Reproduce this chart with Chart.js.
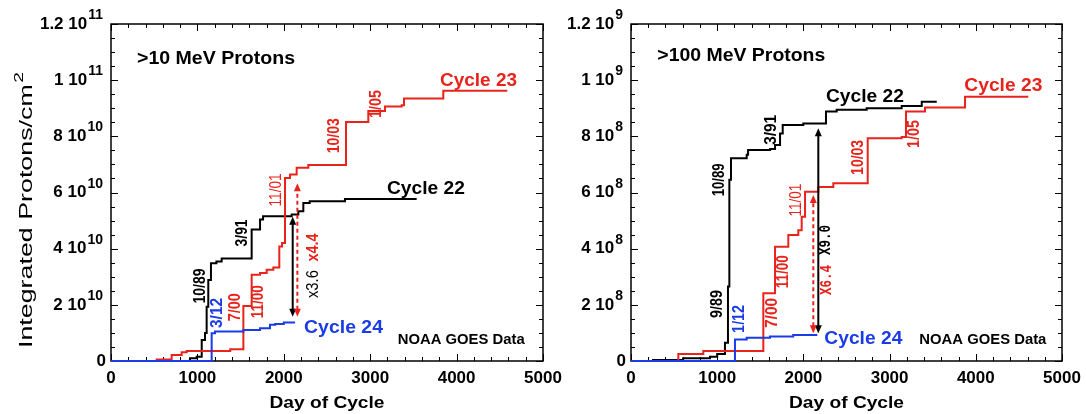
<!DOCTYPE html>
<html><head><meta charset="utf-8">
<script src="https://cdn.jsdelivr.net/npm/chart.js@4.4.0/dist/chart.umd.min.js"></script>
<style>
html,body{margin:0;padding:0;background:#fff;}
#wrap{position:relative;width:1086px;height:414px;overflow:hidden;background:#fff;}
canvas{position:absolute;top:0;}
</style></head><body>
<div id="wrap">
<canvas id="c1" width="565" height="414" style="left:0px"></canvas>
<canvas id="c2" width="521" height="414" style="left:565px"></canvas>
</div>
<script>
// ---------- axis ticks ----------
const xTicks = [0, 1000, 2000, 3000, 4000, 5000];
const xTickLabels = ['0', '1000', '2000', '3000', '4000', '5000'];
const yTicks10 = [0, 2e10, 4e10, 6e10, 8e10, 1e11, 1.2e11];
const yTickMant10 = ['0', '2 10', '4 10', '6 10', '8 10', '1 10', '1.2 10'];
const yTickExp10 = ['', '10', '10', '10', '10', '11', '11'];
const yTicks100 = [0, 2e8, 4e8, 6e8, 8e8, 1e9, 1.2e9];
const yTickMant100 = ['0', '2 10', '4 10', '6 10', '8 10', '1 10', '1.2 10'];
const yTickExp100 = ['', '8', '8', '8', '8', '9', '9'];

// ---------- >10 MeV integrated fluence (protons/cm^2) ----------
const c22_10_days = [0, 914, 992, 1050, 1088, 1107, 1126, 1157, 1220, 1281, 1628, 1725, 1760, 2091, 2168, 2226, 2300, 2708, 3538];
const c22_10_vals = [0, 1.0e9, 1.5e9, 7.5e9, 10e9, 19.3e9, 28.8e9, 34.8e9, 35.4e9, 36.5e9, 46.8e9, 50.4e9, 51.5e9, 52.2e9, 53.3e9, 56.3e9, 56.9e9, 57.7e9, 57.7e9];
const c23_10_days = [0, 529, 702, 818, 876, 1380, 1532, 1628, 1725, 1802, 1879, 1948, 1980, 2014, 2072, 2149, 2284, 2720, 2978, 3171, 3364, 3391, 3846, 4587];
const c23_10_vals = [0, 0.5e9, 2.1e9, 3.1e9, 3.6e9, 4.2e9, 19.6e9, 30.7e9, 31.3e9, 32.5e9, 33.3e9, 40.8e9, 42.0e9, 65.2e9, 66.4e9, 68.8e9, 69.8e9, 85.1e9, 89.0e9, 90.6e9, 91.1e9, 93.5e9, 96.2e9, 96.2e9];
const c24_10_days = [0, 1165, 1204, 1532, 1725, 1840, 1900, 2000, 2130];
const c24_10_vals = [0, 9.9e9, 10.5e9, 11.0e9, 11.7e9, 12.9e9, 13.2e9, 13.7e9, 13.7e9];

// ---------- >100 MeV integrated fluence (protons/cm^2) ----------
const c22_100_days = [0, 255, 605, 916, 1000, 1090, 1125, 1141, 1160, 1342, 1358, 1613, 1671, 1729, 1760, 1999, 2262, 2386, 2734, 3140, 3373, 3547];
const c22_100_vals = [0, 4e6, 10e6, 15e6, 25e6, 65e6, 265e6, 645e6, 722e6, 734e6, 751e6, 755e6, 769e6, 810e6, 840e6, 846e6, 888e6, 895e6, 900e6, 908e6, 923e6, 923e6];
const c23_100_days = [0, 549, 839, 1535, 1671, 1825, 1941, 1980, 2019, 2173, 2347, 2746, 3140, 3190, 3411, 3875, 4609];
const c23_100_vals = [0, 25e6, 36e6, 241e6, 407e6, 449e6, 466e6, 514e6, 603e6, 620e6, 633e6, 793e6, 798e6, 888e6, 903e6, 941e6, 941e6];
const c24_100_days = [0, 1206, 1342, 1613, 1882, 2161];
const c24_100_vals = [0, 77e6, 83e6, 87e6, 93e6, 93e6];

// ---------- ratio arrows (day, from, to) ----------
const arrow10_days = [2103, 2157];
const arrow10_from = [15.8e9, 15.8e9];
const arrow10_to = [51.4e9, 63.3e9];
const arrow100_days = [2173, 2115];
const arrow100_from = [0.99e8, 0.99e8];
const arrow100_to = [8.29e8, 5.91e8];

// ---------- styles ----------
const BLACK = '#000000', RED = '#e8231b', BLUE = '#1a3be6';
const FONT = '"Liberation Sans", Arial, Helvetica, sans-serif';

function txt(ctx, s, x, y, o) {
  ctx.save();
  ctx.font = o.font; ctx.fillStyle = o.color || BLACK;
  ctx.textBaseline = o.baseline || 'alphabetic';
  ctx.translate(x, y);
  if (o.rot) ctx.rotate(o.rot);
  const w = ctx.measureText(s).width;
  const sx = o.width ? o.width / w : 1;
  ctx.scale(sx, 1);
  const ox = o.align === 'center' ? -w / 2 : (o.align === 'right' ? -w : 0);
  ctx.fillText(s, ox, 0);
  ctx.restore();
}

function arrow(ctx, x, y1, y2, color, dashed) {
  ctx.save();
  ctx.strokeStyle = color; ctx.fillStyle = color; ctx.lineWidth = 2;
  const dir = y2 < y1 ? -1 : 1;
  const L = 8, H = 3.5;
  if (dashed) ctx.setLineDash([4, 3]);
  ctx.beginPath(); ctx.moveTo(x, y1 + dir * (L - 1)); ctx.lineTo(x, y2 - dir * (L - 1)); ctx.stroke();
  ctx.setLineDash([]);
  ctx.beginPath(); ctx.moveTo(x, y2); ctx.lineTo(x - H, y2 - dir * L); ctx.lineTo(x + H, y2 - dir * L); ctx.closePath(); ctx.fill();
  ctx.beginPath(); ctx.moveTo(x, y1); ctx.lineTo(x - H, y1 + dir * L); ctx.lineTo(x + H, y1 + dir * L); ctx.closePath(); ctx.fill();
  ctx.restore();
}

function ds(days, vals, color) {
  return {
    data: days.map((d, i) => ({ x: d, y: vals[i] })),
    borderColor: color, borderWidth: 2, pointRadius: 0, stepped: true,
    fill: false, clip: false, tension: 0
  };
}

function panelPlugin(cfg) {
  return {
    id: 'panel',
    beforeDatasetsDraw(chart) {
      const { ctx, chartArea: a } = chart;
      const xs = chart.scales.x, ys = chart.scales.y;
      ctx.save();
      ctx.strokeStyle = BLACK; ctx.lineWidth = 1.5;
      ctx.strokeRect(a.left, a.top, a.right - a.left, a.bottom - a.top);
      ctx.lineWidth = 1;
      ctx.beginPath();
      for (let d = 0; d <= 5000; d += 200) {
        const px = Math.round(xs.getPixelForValue(d)) + 0.5;
        const len = d % 1000 === 0 ? 7 : 4;
        ctx.moveTo(px, a.bottom); ctx.lineTo(px, a.bottom - len);
        ctx.moveTo(px, a.top); ctx.lineTo(px, a.top + len);
      }
      const step = cfg.yMajor / 4;
      for (let k = 0; k <= 24; k++) {
        const v = k * step;
        const py = Math.round(ys.getPixelForValue(v)) + 0.5;
        const len = k % 4 === 0 ? 7 : 4;
        ctx.moveTo(a.left, py); ctx.lineTo(a.left + len, py);
        ctx.moveTo(a.right, py); ctx.lineTo(a.right - len, py);
      }
      ctx.stroke();
      ctx.restore();
    },
    afterDatasetsDraw(chart) {
      const { ctx, chartArea: a } = chart;
      const xs = chart.scales.x, ys = chart.scales.y;
      // x tick labels
      xTicks.forEach((t, i) => {
        txt(ctx, xTickLabels[i], xs.getPixelForValue(t), 383, { font: 'bold 17px ' + FONT, align: 'center' });
      });
      txt(ctx, 'Day of Cycle', (a.left + a.right) / 2, 408, { font: 'bold 16px ' + FONT, align: 'center', width: 115 });
      // y tick labels with exponents
      const MF = 'bold 17px ' + FONT, EF = 'bold 14px ' + FONT;
      cfg.yTicks.forEach((t, i) => {
        const py = ys.getPixelForValue(t);
        const xr = a.left - 8;
        ctx.save();
        ctx.font = MF;
        const wm = ctx.measureText(cfg.mant[i]).width;
        ctx.font = EF;
        const we = cfg.exp[i] ? ctx.measureText(cfg.exp[i]).width + 1 : 0;
        ctx.restore();
        const x0 = (cfg.exp[i] ? xr : xr + 3) - wm - we;
        txt(ctx, cfg.mant[i], x0, py, { font: MF, baseline: 'middle' });
        if (cfg.exp[i]) txt(ctx, cfg.exp[i], x0 + wm + 1, py - 5, { font: EF });
      });
      // y axis title
      if (cfg.yTitle) {
        ctx.save();
        ctx.translate(22, 210);
        ctx.rotate(-Math.PI / 2);
        ctx.font = '18px ' + FONT;
        const w1 = ctx.measureText(cfg.yTitle).width;
        ctx.font = '13px ' + FONT;
        const w2 = ctx.measureText('2').width;
        const sx = 276 / (w1 + w2 + 1);
        ctx.scale(sx, 1);
        ctx.fillStyle = BLACK;
        ctx.textBaseline = 'middle';
        ctx.font = '18px ' + FONT;
        const x0 = -(w1 + w2 + 1) / 2;
        ctx.fillText(cfg.yTitle, x0, 5);
        ctx.font = '13px ' + FONT;
        ctx.fillText('2', x0 + w1 + 1, -3);
        ctx.restore();
      }
      // arrows
      cfg.arrows.days.forEach((d, i) => {
        arrow(ctx, xs.getPixelForValue(d), ys.getPixelForValue(cfg.arrows.from[i]), ys.getPixelForValue(cfg.arrows.to[i]),
          i === 0 ? BLACK : RED, cfg.arrows.dashed[i]);
      });
      // horizontal text labels
      cfg.labels.forEach(l => {
        txt(ctx, l.t, xs.getPixelForValue(l.day), ys.getPixelForValue(l.val), { font: l.font, color: l.color, width: l.w });
      });
      // rotated labels
      cfg.rlabels.forEach(l => {
        txt(ctx, l.t, xs.getPixelForValue(l.day), ys.getPixelForValue(l.val),
          { font: l.font || ('bold 16px ' + FONT), color: l.color, width: l.len, rot: -Math.PI / 2, align: 'center', baseline: 'middle' });
      });
    }
  };
}

function makeChart(id, sets, yMax, pad, cfg) {
  return new Chart(document.getElementById(id), {
    type: 'line',
    data: { datasets: sets },
    options: {
      responsive: false, animation: false, devicePixelRatio: 1,
      layout: { padding: pad },
      plugins: { legend: { display: false }, tooltip: { enabled: false } },
      scales: {
        x: { type: 'linear', min: 0, max: 5000, display: false },
        y: { type: 'linear', min: 0, max: yMax, display: false }
      }
    },
    plugins: [panelPlugin(cfg)]
  });
}

const B16 = 'bold 16px ' + FONT, N16 = '16px ' + FONT, B18 = 'bold 18px ' + FONT, B15 = 'bold 15px ' + FONT;
const MONO = 'bold 16px "Liberation Mono", "DejaVu Sans Mono", monospace';

makeChart('c1',
  [ds(c24_10_days, c24_10_vals, BLUE), ds(c23_10_days, c23_10_vals, RED), ds(c22_10_days, c22_10_vals, BLACK)],
  1.2e11, { left: 111, right: 22, top: 24, bottom: 53 },
  {
    yMajor: 2e10, yTicks: yTicks10, mant: yTickMant10, exp: yTickExp10,
    yTitle: 'Integrated Protons/cm',
    arrows: { days: arrow10_days, from: arrow10_from, to: arrow10_to, dashed: [false, true] },
    labels: [
      { t: '>10 MeV Protons', day: 301, val: 105.7e9, font: B18, color: BLACK, w: 158 },
      { t: 'Cycle 23', day: 3808, val: 98.0e9, font: B18, color: RED, w: 77 },
      { t: 'Cycle 22', day: 3194, val: 59.3e9, font: B18, color: BLACK, w: 78 },
      { t: 'Cycle 24', day: 2234, val: 9.9e9, font: B18, color: BLUE, w: 79 },
      { t: 'NOAA GOES Data', day: 3318, val: 6.1e9, font: B15, color: BLACK, w: 127 }
    ],
    rlabels: [
      { t: '10/89', day: 1042, val: 26.7e9, color: BLACK, len: 35 },
      { t: '3/91', day: 1528, val: 45.6e9, color: BLACK, len: 27 },
      { t: '3/12', day: 1238, val: 17.1e9, color: BLUE, len: 30 },
      { t: '7/00', day: 1445, val: 19.1e9, color: RED, len: 28 },
      { t: '11/00', day: 1713, val: 21.1e9, color: RED, len: 33 },
      { t: '11/01', day: 1918, val: 60.9e9, color: RED, len: 33, font: N16 },
      { t: '10/03', day: 2593, val: 80.2e9, color: RED, len: 35 },
      { t: '1/05', day: 3075, val: 91.5e9, color: RED, len: 28 },
      { t: 'x3.6', day: 2342, val: 27.4e9, color: BLACK, len: 28, font: N16 },
      { t: 'x4.4', day: 2342, val: 40.4e9, color: RED, len: 28 }
    ]
  });

makeChart('c2',
  [ds(c24_100_days, c24_100_vals, BLUE), ds(c23_100_days, c23_100_vals, RED), ds(c22_100_days, c22_100_vals, BLACK)],
  1.2e9, { left: 66, right: 24, top: 24, bottom: 53 },
  {
    yMajor: 2e8, yTicks: yTicks100, mant: yTickMant100, exp: yTickExp100,
    yTitle: null,
    arrows: { days: arrow100_days, from: arrow100_from, to: arrow100_to, dashed: [false, true] },
    labels: [
      { t: '>100 MeV Protons', day: 305, val: 10.69e8, font: B18, color: BLACK, w: 168 },
      { t: 'Cycle 22', day: 2262, val: 9.23e8, font: B18, color: BLACK, w: 78 },
      { t: 'Cycle 23', day: 3867, val: 9.62e8, font: B18, color: RED, w: 78 },
      { t: 'Cycle 24', day: 2243, val: 0.59e8, font: B18, color: BLUE, w: 78 },
      { t: 'NOAA GOES Data', day: 3345, val: 0.61e8, font: B15, color: BLACK, w: 127 }
    ],
    rlabels: [
      { t: '10/89', day: 1029, val: 6.45e8, color: BLACK, len: 33 },
      { t: '9/89', day: 1007, val: 2.03e8, color: BLACK, len: 28 },
      { t: '3/91', day: 1636, val: 8.23e8, color: BLACK, len: 30 },
      { t: '1/12', day: 1261, val: 1.50e8, color: BLUE, len: 28 },
      { t: '7/00', day: 1645, val: 1.71e8, color: RED, len: 30 },
      { t: '11/00', day: 1773, val: 3.18e8, color: RED, len: 33 },
      { t: '11/01', day: 1926, val: 5.73e8, color: RED, len: 33, font: N16 },
      { t: '10/03', day: 2641, val: 7.25e8, color: RED, len: 35 },
      { t: '1/05', day: 3295, val: 8.08e8, color: RED, len: 28 },
      { t: 'X9.0', day: 2262, val: 4.31e8, color: BLACK, len: 30, font: MONO },
      { t: 'X6.4', day: 2270, val: 2.88e8, color: RED, len: 30, font: MONO }
    ]
  });
</script>
</body></html>
